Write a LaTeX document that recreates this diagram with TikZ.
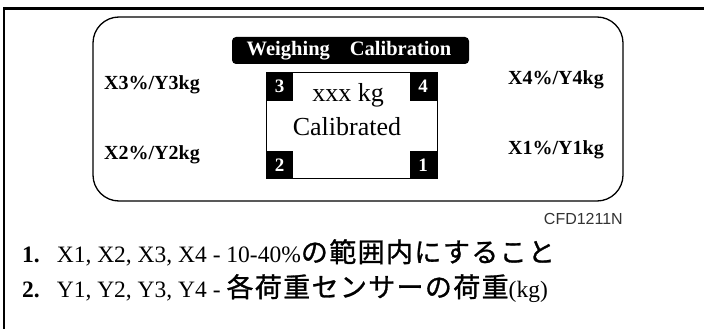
\documentclass[tikz,border=0pt]{standalone}
\usepackage{fontspec}
\setmainfont{Liberation Serif}
\newfontfamily\cfdfont{Liberation Sans}
\newfontfamily\cjk[FakeBold=1,LetterSpace=5]{Noto Sans CJK JP}
\begin{document}
\begin{tikzpicture}[x=1pt,y=-1pt,
  frame/.style={line width=2.6pt},
  panel/.style={draw,line width=1.3pt,rounded corners=26pt},
  titlebox/.style={fill=black,rounded corners=4pt},
  corner/.style={fill=black},
  cnum/.style={text=white,font=\fontsize{19}{19}\selectfont\bfseries,inner sep=0pt},
  lbl/.style={font=\fontsize{20}{20}\selectfont\bfseries,inner sep=0pt},
  big/.style={font=\fontsize{26}{26}\selectfont,inner sep=0pt},
  note/.style={font=\fontsize{23.5}{23.5}\selectfont,inner sep=0pt,anchor=base west}]
\useasboundingbox (0,0) rectangle (704,329);
\fill[white] (0,0) rectangle (704,329);
% outer frame
\coordinate (fbl) at (4,329);
\coordinate (ftl) at (4,8.3);
\coordinate (ftr) at (704,8.3);
\draw[frame] (fbl) -- (ftl) -- (ftr);
% panel
\node[panel,minimum width=530pt,minimum height=184pt,inner sep=0pt] (panel) at (358,109) {};
% title
\node[titlebox,minimum width=237pt,minimum height=27pt,inner sep=0pt] (title) at (350.5,50.5) {};
\node[text=white,font=\fontsize{20.5}{20.5}\selectfont\bfseries,inner sep=0pt] (titletext) at (349,51) {Weighing\hspace{20pt}Calibration};
% inner display
\node[draw,line width=1pt,minimum width=171pt,minimum height=105pt,inner sep=0pt] (disp) at (351.5,125.5) {};
\fill[corner] (266,73) rectangle (293,101);
\fill[corner] (409.5,73) rectangle (437,101);
\fill[corner] (266,151) rectangle (293,178);
\fill[corner] (409.5,151) rectangle (437,178);
\node[cnum] (n3) at (279.5,86) {3};
\node[cnum] (n4) at (423,86) {4};
\node[cnum] (n2) at (279.5,165) {2};
\node[cnum] (n1) at (423,165) {1};
\node[big,anchor=base] (kg) at (348,101.5) {xxx kg};
\node[big,anchor=base] (cal) at (347,135) {Calibrated};
% labels
\node[lbl] (x3) at (152,85) {X3\%/Y3kg};
\node[lbl] (x2) at (152,155) {X2\%/Y2kg};
\node[lbl] (x4) at (556,80) {X4\%/Y4kg};
\node[lbl] (x1) at (556,150) {X1\%/Y1kg};
% code
\node[font=\cfdfont\fontsize{16}{16}\selectfont,text=black!80,inner sep=0pt,anchor=east] (cfd) at (623,219) {CFD1211N};
% notes
\node[note] (l1) at (22,262) {\textbf{1.}\hspace{17pt}X1, X2, X3, X4 - 10-40\%{\cjk\fontsize{27}{27}\selectfont の範囲内にすること}};
\node[note] (l2) at (22,297) {\textbf{2.}\hspace{17pt}Y1, Y2, Y3, Y4 - {\cjk\fontsize{27}{27}\selectfont 各荷重センサーの荷重}(kg)};
\end{tikzpicture}
\end{document}
